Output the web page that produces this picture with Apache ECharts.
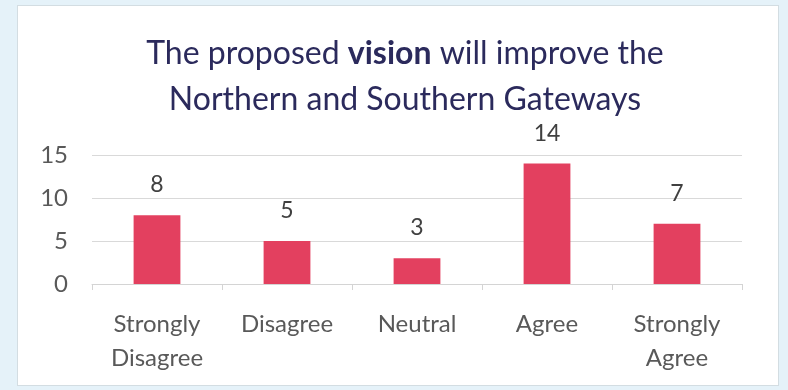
<!DOCTYPE html>
<html><head><meta charset="utf-8">
<script src="https://cdn.jsdelivr.net/npm/echarts@6/dist/echarts.min.js"></script>
<style>
html,body{margin:0;padding:0;width:788px;height:390px;background:#e5f2f9;overflow:hidden;}
#panel{position:absolute;left:17px;top:5px;width:760px;height:379px;background:#fff;border:1px solid #d3dde2;}
#c{position:absolute;left:0;top:0;width:788px;height:390px;}
</style></head>
<body><div id="panel"></div><div id="c"></div>
<script>
const categories = ['Strongly\nDisagree', 'Disagree', 'Neutral', 'Agree', 'Strongly\nAgree'];
const values = [8, 5, 3, 14, 7];
const yTicks = { min: 0, max: 15, interval: 5 };

const chart = echarts.init(document.getElementById('c'), null, {renderer: 'canvas'});
const font = 'Lato, "Open Sans", sans-serif';
chart.setOption({
  backgroundColor: 'transparent',
  animation: false,
  title: {
    text: 'The proposed {b|vision} will improve the\nNorthern and Southern Gateways',
    left: 400, textAlign: 'center', top: 26,
    textStyle: {
      fontFamily: font, fontSize: 32, fontWeight: 'normal', color: '#2b2a5c', lineHeight: 46,
      rich: { b: { fontFamily: font, fontSize: 32, fontWeight: 'bold', color: '#2b2a5c', lineHeight: 46 } }
    }
  },
  grid: { left: 92, right: 46, top: 155, bottom: 106, containLabel: false },
  xAxis: {
    type: 'category', data: categories,
    axisLine: { show: true, lineStyle: { color: '#d4d4d4', width: 1 } },
    axisTick: { show: true, length: 6, lineStyle: { color: '#d4d4d4' } },
    axisLabel: { fontFamily: font, fontSize: 24, color: '#595959', lineHeight: 34, margin: 23, interval: 0 }
  },
  yAxis: {
    type: 'value', min: yTicks.min, max: yTicks.max, interval: yTicks.interval,
    axisLine: { show: false }, axisTick: { show: false },
    splitLine: { lineStyle: { color: '#d9d9d9', width: 1 } },
    axisLabel: { fontFamily: font, fontSize: 24, color: '#595959', margin: 24 }
  },
  series: [{
    type: 'bar', data: values, barWidth: '36%',
    itemStyle: { color: '#e3405f' },
    label: { show: true, position: 'top', distance: 19, fontFamily: font, fontSize: 23, color: '#404040' }
  }]
});
</script></body></html>
